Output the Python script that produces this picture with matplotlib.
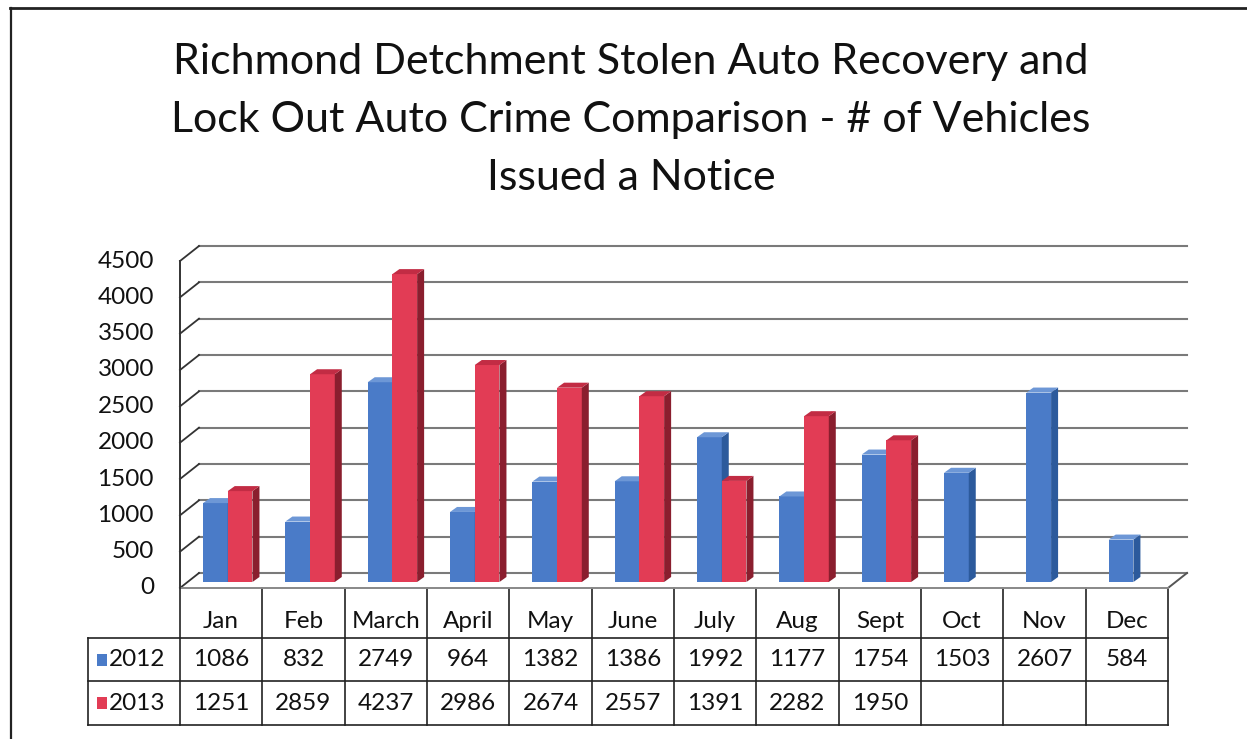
import matplotlib
matplotlib.use("Agg")
import matplotlib.pyplot as plt
from matplotlib.patches import Rectangle, Polygon

plt.rcParams['font.family'] = ['Lato', 'DejaVu Sans']

# ---------------- data ----------------
months = ["Jan", "Feb", "March", "April", "May", "June", "July", "Aug",
          "Sept", "Oct", "Nov", "Dec"]
series_names = ["2012", "2013"]
values_2012 = [1086, 832, 2749, 964, 1382, 1386, 1992, 1177, 1754, 1503, 2607, 584]
values_2013 = [1251, 2859, 4237, 2986, 2674, 2557, 1391, 2282, 1950, None, None, None]
y_ticks = [0, 500, 1000, 1500, 2000, 2500, 3000, 3500, 4000, 4500]
title_lines = ["Richmond Detchment Stolen Auto Recovery and",
               "Lock Out Auto Crime Comparison - # of Vehicles",
               "Issued a Notice"]

# ---------------- style ----------------
W, H = 1247, 739
front_col = {"2012": "#4a7bc8", "2013": "#e23c55"}
side_col = {"2012": "#2c5a9c", "2013": "#8a1e2e"}
top_col = {"2012": "#6d97d6", "2013": "#c22c44"}
grid_col = "#7a7a7a"
fs = 17.5

fig = plt.figure(figsize=(W / 100, H / 100), dpi=100)
fig.patch.set_facecolor("white")

# overlay in pixel coordinates (y from top)
ov = fig.add_axes([0, 0, 1, 1], zorder=0)
ov.set_xlim(0, W)
ov.set_ylim(H, 0)
ov.axis("off")

# main plotting area (front plane)
left_px, right_px, top_px, bot_px = 180, 1168, 261, 588
ax = fig.add_axes([left_px / W, (H - bot_px) / H, (right_px - left_px) / W,
                   (bot_px - top_px) / H], zorder=1)
n = len(months)
ax.set_xlim(-0.5, n - 0.5)
ax.set_ylim(0, max(y_ticks))
ax.axis("off")
ax.patch.set_alpha(0)

ppu_x = (right_px - left_px) / n
ppu_y = (bot_px - top_px) / max(y_ticks)

# back wall offset
bx, by = 19 / ppu_x, 15 / ppu_y
for v in y_ticks:
    ax.plot([-0.5 + bx, n - 0.5 + bx], [v + by, v + by], color=grid_col,
            lw=1.5, clip_on=False, zorder=1)
    ax.plot([-0.5, -0.5 + bx], [v, v + by], color="#333333", lw=1.3,
            clip_on=False, zorder=1)
    ax.text(-0.5 - 26 / ppu_x, v, str(v), ha="right", va="center",
            fontsize=fs, color="#111111", clip_on=False)
ax.plot([-0.5, -0.5], [0, max(y_ticks)], color="#333333", lw=1.4,
        clip_on=False, zorder=2)
ax.plot([n - 0.5, n - 0.5 + bx], [0, by], color="#555555", lw=1.4,
        clip_on=False, zorder=1)
ax.plot([-0.5, n - 0.5], [0, 0], color="#888888", lw=1.4,
        clip_on=False, zorder=1)

# bars
bw = 0.30
offsets = {"2012": -0.07, "2013": 0.23}
b0 = 6 / ppu_y
ddx, ddy = 7 / ppu_x, 5 / ppu_y
for name, vals in zip(series_names, [values_2012, values_2013]):
    for i, v in enumerate(vals):
        if v is None:
            continue
        xc = i + offsets[name]
        xl, xr = xc - bw / 2, xc + bw / 2
        ax.bar(xc, v, width=bw, bottom=b0, color=front_col[name],
               edgecolor="none", zorder=3, clip_on=False)
        ax.add_patch(Polygon([(xr, b0), (xr + ddx, b0 + ddy),
                              (xr + ddx, b0 + v + ddy), (xr, b0 + v)],
                             closed=True, facecolor=side_col[name],
                             edgecolor="none", zorder=3, clip_on=False))
        ax.add_patch(Polygon([(xl, b0 + v), (xl + ddx, b0 + v + ddy),
                              (xr + ddx, b0 + v + ddy), (xr, b0 + v)],
                             closed=True, facecolor=top_col[name],
                             edgecolor="none", zorder=3, clip_on=False))

# ---------------- title ----------------
for k, line in enumerate(title_lines):
    ov.text(631, 62 + 58 * k, line, ha="center", va="center",
            fontsize=31, color="#111111")

# ---------------- border ----------------
ov.plot([10, W], [8, 8], color="#222222", lw=2)
ov.plot([11, 11], [8, H], color="#222222", lw=1.6)

# ---------------- data table ----------------
edges = [left_px + k * ppu_x for k in range(n + 1)]
row_y = [588, 638, 681, 725]
lab_left = 88
lc = "#222222"
for e in edges:
    ov.plot([e, e], [row_y[0], row_y[3]], color=lc, lw=1.2)
for yy in row_y[1:]:
    ov.plot([lab_left, edges[-1]], [yy, yy], color=lc, lw=1.2)
ov.plot([lab_left, lab_left], [row_y[1], row_y[3]], color=lc, lw=1.2)

for i, m in enumerate(months):
    xc = (edges[i] + edges[i + 1]) / 2
    ov.text(xc, 622, m, ha="center", va="center", fontsize=fs, color="#111111")
    ov.text(xc, 660, str(values_2012[i]), ha="center", va="center",
            fontsize=fs, color="#111111")
    if values_2013[i] is not None:
        ov.text(xc, 703, str(values_2013[i]), ha="center", va="center",
                fontsize=fs, color="#111111")

for name, yc in zip(series_names, [660, 703]):
    ov.add_patch(Rectangle((97, yc - 6), 10, 12, facecolor=front_col[name],
                           edgecolor="none"))
    ov.text(109, yc, name, ha="left", va="center", fontsize=fs,
            color="#111111")

fig.savefig("out.png", dpi=100, facecolor="white")
